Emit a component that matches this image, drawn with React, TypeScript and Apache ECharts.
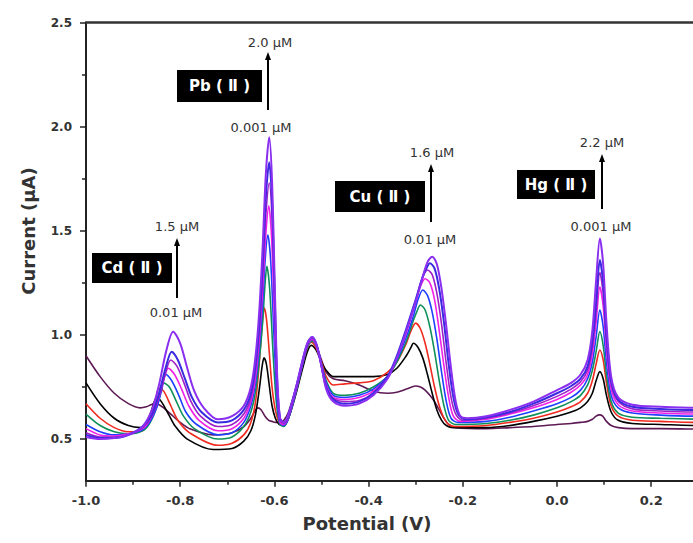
import React, { useEffect, useRef } from "react";
import * as echarts from "echarts";

// ---------- data (potential V, current µA) ----------
const BLANK: number[][] = [
  [-1.0, 0.9], [-0.97, 0.8], [-0.94, 0.72], [-0.91, 0.67], [-0.885, 0.65],
  [-0.872, 0.655], [-0.862, 0.665], [-0.855, 0.67], [-0.845, 0.665], [-0.835, 0.65], [-0.82, 0.62], [-0.8, 0.58], [-0.78, 0.55], [-0.73, 0.52], [-0.69, 0.53], [-0.665, 0.56],
  [-0.65, 0.6], [-0.64, 0.64], [-0.635, 0.65], [-0.628, 0.64], [-0.62, 0.61], [-0.612, 0.59], [-0.605, 0.585], [-0.598, 0.58], [-0.59, 0.58], [-0.58, 0.59],
  [-0.57, 0.63], [-0.555, 0.74], [-0.54, 0.86], [-0.53, 0.94], [-0.522, 0.975], [-0.512, 0.95], [-0.5, 0.88], [-0.49, 0.82], [-0.475, 0.79],
  [-0.45, 0.78], [-0.42, 0.76], [-0.39, 0.73],
  [-0.36, 0.72], [-0.34, 0.725], [-0.32, 0.74], [-0.3, 0.755], [-0.29, 0.75], [-0.28, 0.735], [-0.27, 0.71], [-0.26, 0.68], [-0.25, 0.64], [-0.24, 0.6], [-0.23, 0.57], [-0.215, 0.555],
  [-0.15, 0.55], [-0.1, 0.555], [-0.05, 0.56], [0.0, 0.57], [0.03, 0.575], [0.05, 0.58],
  [0.065, 0.585], [0.075, 0.595], [0.083, 0.61], [0.09, 0.616], [0.097, 0.61], [0.105, 0.585], [0.115, 0.565], [0.13, 0.555],
  [0.16, 0.55], [0.22, 0.55], [0.3, 0.548], [0.4, 0.545],
];

const BLACK: number[][] = [
  [-1.0, 0.77], [-0.97, 0.67], [-0.94, 0.6], [-0.91, 0.565], [-0.885, 0.555],
  [-0.872, 0.58], [-0.862, 0.63], [-0.855, 0.68], [-0.85, 0.7], [-0.84, 0.68], [-0.825, 0.62], [-0.81, 0.56], [-0.785, 0.5], [-0.73, 0.45], [-0.69, 0.455], [-0.665, 0.49],
  [-0.65, 0.54], [-0.64, 0.62], [-0.632, 0.74], [-0.626, 0.85], [-0.622, 0.89], [-0.617, 0.86], [-0.611, 0.76], [-0.605, 0.66], [-0.598, 0.6], [-0.59, 0.57], [-0.58, 0.565],
  [-0.57, 0.6], [-0.555, 0.71], [-0.54, 0.84], [-0.53, 0.92], [-0.522, 0.95], [-0.512, 0.93], [-0.5, 0.87], [-0.49, 0.83], [-0.475, 0.8],
  [-0.45, 0.8], [-0.42, 0.8], [-0.39, 0.8],
  [-0.36, 0.81], [-0.34, 0.84], [-0.32, 0.9], [-0.31, 0.94], [-0.305, 0.96], [-0.295, 0.94], [-0.285, 0.89], [-0.275, 0.81], [-0.265, 0.72], [-0.255, 0.64], [-0.245, 0.59], [-0.235, 0.565], [-0.22, 0.555],
  [-0.15, 0.555], [-0.1, 0.565], [-0.05, 0.585], [0.0, 0.61], [0.03, 0.63], [0.05, 0.65],
  [0.065, 0.68], [0.075, 0.72], [0.083, 0.78], [0.091, 0.824], [0.098, 0.79], [0.105, 0.71], [0.115, 0.63], [0.13, 0.59],
  [0.16, 0.575], [0.22, 0.57], [0.3, 0.565], [0.4, 0.565],
];

const RED: number[][] = [
  [-1.0, 0.67], [-0.97, 0.6], [-0.94, 0.555], [-0.91, 0.535], [-0.88, 0.54],
  [-0.87, 0.57], [-0.86, 0.63], [-0.852, 0.69], [-0.845, 0.745], [-0.835, 0.73], [-0.82, 0.66], [-0.805, 0.59], [-0.78, 0.53], [-0.72, 0.47], [-0.69, 0.48], [-0.665, 0.52],
  [-0.65, 0.58], [-0.64, 0.68], [-0.632, 0.87], [-0.626, 1.05], [-0.622, 1.13], [-0.617, 1.08], [-0.611, 0.92], [-0.605, 0.75], [-0.598, 0.64], [-0.59, 0.58], [-0.58, 0.565],
  [-0.57, 0.6], [-0.555, 0.72], [-0.54, 0.86], [-0.53, 0.94], [-0.522, 0.965], [-0.512, 0.94], [-0.5, 0.87], [-0.49, 0.8], [-0.475, 0.76],
  [-0.45, 0.765], [-0.42, 0.77], [-0.39, 0.78],
  [-0.36, 0.82], [-0.34, 0.87], [-0.32, 0.96], [-0.31, 1.02], [-0.3, 1.057], [-0.29, 1.03], [-0.28, 0.96], [-0.27, 0.86], [-0.26, 0.75], [-0.25, 0.66], [-0.24, 0.6], [-0.23, 0.57], [-0.215, 0.56],
  [-0.15, 0.565], [-0.1, 0.58], [-0.05, 0.6], [0.0, 0.63], [0.03, 0.655], [0.05, 0.68],
  [0.065, 0.72], [0.075, 0.78], [0.083, 0.86], [0.091, 0.928], [0.098, 0.88], [0.105, 0.77], [0.115, 0.66], [0.13, 0.61],
  [0.16, 0.59], [0.22, 0.585], [0.3, 0.58], [0.4, 0.58],
];

const GREEN: number[][] = [
  [-1.0, 0.62], [-0.97, 0.565], [-0.94, 0.535], [-0.91, 0.525], [-0.88, 0.54],
  [-0.865, 0.575], [-0.852, 0.64], [-0.843, 0.71], [-0.835, 0.77], [-0.823, 0.75], [-0.808, 0.68], [-0.793, 0.61], [-0.77, 0.55], [-0.72, 0.5], [-0.69, 0.51], [-0.665, 0.56],
  [-0.65, 0.63], [-0.64, 0.73], [-0.632, 0.88], [-0.625, 1.06], [-0.62, 1.24], [-0.616, 1.33], [-0.61, 1.22], [-0.603, 0.92], [-0.596, 0.68], [-0.589, 0.575], [-0.58, 0.56],
  [-0.57, 0.6], [-0.555, 0.72], [-0.54, 0.86], [-0.53, 0.94], [-0.52, 0.97], [-0.51, 0.94], [-0.5, 0.86], [-0.49, 0.78], [-0.475, 0.72],
  [-0.45, 0.71], [-0.42, 0.72], [-0.39, 0.75],
  [-0.36, 0.8], [-0.34, 0.87], [-0.32, 0.97], [-0.305, 1.07], [-0.298, 1.11], [-0.29, 1.144], [-0.28, 1.12], [-0.27, 1.04], [-0.26, 0.92], [-0.25, 0.78], [-0.24, 0.66], [-0.23, 0.59], [-0.215, 0.57],
  [-0.15, 0.575], [-0.1, 0.59], [-0.05, 0.615], [0.0, 0.65], [0.03, 0.68], [0.05, 0.71],
  [0.065, 0.76], [0.075, 0.83], [0.083, 0.92], [0.091, 1.016], [0.098, 0.95], [0.105, 0.81], [0.115, 0.68], [0.13, 0.625],
  [0.16, 0.605], [0.22, 0.6], [0.3, 0.595], [0.4, 0.59],
];

const BLUE: number[][] = [
  [-1.0, 0.57], [-0.97, 0.535], [-0.94, 0.52], [-0.91, 0.525], [-0.88, 0.545],
  [-0.865, 0.58], [-0.85, 0.65], [-0.84, 0.73], [-0.83, 0.81], [-0.818, 0.78], [-0.803, 0.71], [-0.788, 0.63], [-0.765, 0.57], [-0.72, 0.52], [-0.69, 0.53], [-0.665, 0.58],
  [-0.65, 0.66], [-0.64, 0.77], [-0.632, 0.94], [-0.625, 1.15], [-0.619, 1.38], [-0.614, 1.48], [-0.608, 1.36], [-0.601, 1.0], [-0.595, 0.72], [-0.589, 0.58], [-0.58, 0.565],
  [-0.57, 0.6], [-0.555, 0.72], [-0.54, 0.86], [-0.53, 0.95], [-0.52, 0.98], [-0.51, 0.945], [-0.5, 0.86], [-0.49, 0.77], [-0.475, 0.71],
  [-0.45, 0.7], [-0.42, 0.71], [-0.39, 0.74],
  [-0.36, 0.8], [-0.34, 0.88], [-0.32, 0.99], [-0.305, 1.09], [-0.295, 1.17], [-0.285, 1.216], [-0.275, 1.19], [-0.265, 1.11], [-0.255, 0.98], [-0.245, 0.82], [-0.235, 0.68], [-0.225, 0.6], [-0.21, 0.58],
  [-0.15, 0.585], [-0.1, 0.605], [-0.05, 0.635], [0.0, 0.67], [0.03, 0.7], [0.05, 0.735],
  [0.065, 0.79], [0.075, 0.87], [0.083, 0.99], [0.091, 1.12], [0.098, 1.04], [0.105, 0.87], [0.115, 0.71], [0.13, 0.65],
  [0.16, 0.625], [0.22, 0.615], [0.3, 0.61], [0.4, 0.61],
];

const MAGENTA: number[][] = [
  [-1.0, 0.55], [-0.97, 0.52], [-0.94, 0.515], [-0.91, 0.525], [-0.88, 0.55],
  [-0.865, 0.59], [-0.85, 0.67], [-0.837, 0.77], [-0.825, 0.84], [-0.812, 0.81], [-0.797, 0.74], [-0.782, 0.66], [-0.76, 0.59], [-0.72, 0.54], [-0.69, 0.55], [-0.665, 0.6],
  [-0.65, 0.68], [-0.64, 0.8], [-0.632, 0.98], [-0.625, 1.22], [-0.618, 1.49], [-0.612, 1.62], [-0.606, 1.47], [-0.6, 1.08], [-0.594, 0.74], [-0.588, 0.58], [-0.58, 0.57],
  [-0.57, 0.61], [-0.555, 0.73], [-0.54, 0.87], [-0.53, 0.95], [-0.52, 0.98], [-0.51, 0.94], [-0.5, 0.85], [-0.49, 0.76], [-0.475, 0.7],
  [-0.45, 0.69], [-0.42, 0.7], [-0.39, 0.73],
  [-0.36, 0.8], [-0.34, 0.89], [-0.32, 1.01], [-0.305, 1.12], [-0.292, 1.22], [-0.28, 1.27], [-0.27, 1.25], [-0.26, 1.17], [-0.25, 1.02], [-0.24, 0.85], [-0.23, 0.7], [-0.22, 0.61], [-0.205, 0.585],
  [-0.15, 0.595], [-0.1, 0.62], [-0.05, 0.65], [0.0, 0.69], [0.03, 0.725], [0.05, 0.76],
  [0.065, 0.81], [0.075, 0.91], [0.083, 1.06], [0.091, 1.23], [0.098, 1.14], [0.105, 0.93], [0.115, 0.74], [0.13, 0.665],
  [0.16, 0.635], [0.22, 0.625], [0.3, 0.62], [0.4, 0.62],
];

const PURPLE: number[][] = [
  [-1.0, 0.53], [-0.97, 0.51], [-0.94, 0.51], [-0.91, 0.52], [-0.88, 0.555],
  [-0.86, 0.61], [-0.845, 0.7], [-0.832, 0.81], [-0.82, 0.88], [-0.807, 0.85], [-0.792, 0.77], [-0.777, 0.68], [-0.757, 0.61], [-0.72, 0.56], [-0.69, 0.57], [-0.665, 0.62],
  [-0.65, 0.7], [-0.64, 0.83], [-0.632, 1.02], [-0.625, 1.28], [-0.618, 1.58], [-0.611, 1.73], [-0.605, 1.56], [-0.599, 1.12], [-0.594, 0.76], [-0.588, 0.59], [-0.58, 0.575],
  [-0.57, 0.61], [-0.555, 0.73], [-0.54, 0.87], [-0.53, 0.95], [-0.52, 0.985], [-0.51, 0.95], [-0.5, 0.85], [-0.49, 0.75], [-0.475, 0.695],
  [-0.45, 0.68], [-0.42, 0.685], [-0.39, 0.72],
  [-0.36, 0.79], [-0.34, 0.89], [-0.32, 1.02], [-0.3, 1.16], [-0.288, 1.26], [-0.275, 1.312], [-0.265, 1.29], [-0.255, 1.2], [-0.245, 1.05], [-0.235, 0.86], [-0.225, 0.7], [-0.215, 0.62], [-0.2, 0.59],
  [-0.15, 0.6], [-0.1, 0.625], [-0.05, 0.66], [0.0, 0.705], [0.03, 0.74], [0.05, 0.775],
  [0.065, 0.83], [0.075, 0.94], [0.083, 1.11], [0.091, 1.3], [0.098, 1.2], [0.105, 0.97], [0.115, 0.76], [0.13, 0.68],
  [0.16, 0.645], [0.22, 0.635], [0.3, 0.63], [0.4, 0.63],
];

const NAVY: number[][] = [
  [-1.0, 0.52], [-0.97, 0.505], [-0.94, 0.505], [-0.91, 0.52], [-0.88, 0.56],
  [-0.86, 0.62], [-0.845, 0.72], [-0.83, 0.85], [-0.818, 0.92], [-0.805, 0.88], [-0.79, 0.79], [-0.775, 0.7], [-0.755, 0.63], [-0.72, 0.58], [-0.69, 0.59], [-0.665, 0.64],
  [-0.65, 0.72], [-0.64, 0.86], [-0.632, 1.06], [-0.625, 1.34], [-0.618, 1.67], [-0.611, 1.83], [-0.605, 1.64], [-0.599, 1.16], [-0.594, 0.77], [-0.588, 0.6], [-0.58, 0.58],
  [-0.57, 0.62], [-0.555, 0.74], [-0.54, 0.88], [-0.53, 0.96], [-0.52, 0.99], [-0.51, 0.95], [-0.5, 0.85], [-0.49, 0.75], [-0.475, 0.69],
  [-0.45, 0.67], [-0.42, 0.68], [-0.39, 0.72],
  [-0.36, 0.8], [-0.34, 0.9], [-0.32, 1.03], [-0.3, 1.17], [-0.285, 1.28], [-0.275, 1.33], [-0.27, 1.344], [-0.26, 1.32], [-0.25, 1.22], [-0.24, 1.06], [-0.23, 0.86], [-0.22, 0.7], [-0.21, 0.62], [-0.195, 0.595],
  [-0.15, 0.605], [-0.1, 0.63], [-0.05, 0.67], [0.0, 0.72], [0.03, 0.755], [0.05, 0.79],
  [0.065, 0.85], [0.075, 0.97], [0.083, 1.16], [0.091, 1.36], [0.098, 1.25], [0.105, 1.0], [0.115, 0.78], [0.13, 0.69],
  [0.16, 0.655], [0.22, 0.645], [0.3, 0.64], [0.4, 0.64],
];

const VIOLET: number[][] = [
  [-1.0, 0.51], [-0.97, 0.5], [-0.94, 0.505], [-0.91, 0.52], [-0.88, 0.56],
  [-0.86, 0.64], [-0.845, 0.76], [-0.83, 0.92], [-0.815, 1.016], [-0.8, 0.96], [-0.785, 0.84], [-0.77, 0.73], [-0.75, 0.65], [-0.72, 0.595], [-0.69, 0.61], [-0.665, 0.66],
  [-0.65, 0.75], [-0.64, 0.9], [-0.632, 1.12], [-0.625, 1.42], [-0.618, 1.78], [-0.611, 1.95], [-0.605, 1.74], [-0.599, 1.22], [-0.594, 0.8], [-0.588, 0.6], [-0.58, 0.58],
  [-0.57, 0.62], [-0.555, 0.74], [-0.54, 0.88], [-0.53, 0.96], [-0.52, 0.99], [-0.51, 0.95], [-0.5, 0.85], [-0.49, 0.74], [-0.475, 0.68],
  [-0.45, 0.66], [-0.42, 0.67], [-0.39, 0.71],
  [-0.36, 0.79], [-0.34, 0.89], [-0.32, 1.02], [-0.3, 1.16], [-0.285, 1.28], [-0.275, 1.35], [-0.265, 1.376], [-0.255, 1.34], [-0.245, 1.22], [-0.235, 1.04], [-0.225, 0.84], [-0.215, 0.68], [-0.205, 0.61], [-0.19, 0.6],
  [-0.15, 0.61], [-0.1, 0.64], [-0.05, 0.68], [0.0, 0.735], [0.03, 0.77], [0.05, 0.81],
  [0.065, 0.88], [0.075, 1.02], [0.083, 1.26], [0.091, 1.464], [0.098, 1.34], [0.105, 1.06], [0.115, 0.8], [0.13, 0.7],
  [0.16, 0.665], [0.22, 0.655], [0.3, 0.65], [0.4, 0.645],
];

const CURVES = [BLANK, BLACK, RED, GREEN, BLUE, MAGENTA, PURPLE, NAVY, VIOLET];
const CURVE_COLORS = ["#5e1a55", "#000000", "#f02a1e", "#0f8f5a", "#1e40ff", "#f020e8", "#a020c8", "#3a2ae0", "#8a2ef0"];

const Y_MAJOR = [0.5, 1.0, 1.5, 2.0, 2.5];
const Y_MINOR = [0.75, 1.25, 1.75, 2.25];

const METALS = ["Cd ( Ⅱ )", "Pb ( Ⅱ )", "Cu ( Ⅱ )", "Hg ( Ⅱ )"];
const HIGH_CONC = ["1.5 μM", "2.0 μM", "1.6 μM", "2.2 μM"];
const LOW_CONC = ["0.01 μM", "0.001 μM", "0.01 μM", "0.001 μM"];

// annotation layout (pixels)
const NOTE_LAYOUT = [
  { box: [92, 253, 80, 30], ax: 177, aTop: 240, aBot: 298, tx: 177, ty: 226, bx: 176, by: 312 },
  { box: [177, 70, 85, 32], ax: 268, aTop: 54, aBot: 110, tx: 270, ty: 42, bx: 261, by: 127 },
  { box: [335, 181, 90, 31], ax: 431, aTop: 166, aBot: 222, tx: 432, ty: 152, bx: 430, by: 239 },
  { box: [517, 170, 78, 29], ax: 602, aTop: 156, aBot: 209, tx: 602, ty: 142, bx: 601, by: 226 },
];

const FONT = '"DejaVu Sans", "Liberation Sans", Arial, sans-serif';

export default function App() {
  const ref = useRef<HTMLDivElement>(null);
  useEffect(() => {
    if (!ref.current) return;
    const chart = echarts.init(ref.current, null, { renderer: "svg" });

    const graphics: any[] = [];
    METALS.forEach((m, i) => {
      const L = NOTE_LAYOUT[i];
      const [x, y, w, h] = L.box;
      graphics.push({ type: "rect", shape: { x, y, width: w, height: h }, style: { fill: "#000" }, z: 50 });
      graphics.push({
        type: "text", x: x + w / 2, y: y + h / 2, z: 51,
        style: { text: m, fill: "#fff", font: `bold 15px ${FONT}`, align: "center", verticalAlign: "middle" },
      });
      graphics.push({ type: "line", shape: { x1: L.ax, y1: L.aBot, x2: L.ax, y2: L.aTop + 4 }, style: { stroke: "#000", lineWidth: 2 }, z: 50 });
      graphics.push({
        type: "polygon", z: 50,
        shape: { points: [[L.ax, L.aTop - 2], [L.ax - 3, L.aTop + 6], [L.ax + 3, L.aTop + 6]] },
        style: { fill: "#000" },
      });
      graphics.push({
        type: "text", x: L.tx, y: L.ty, z: 51,
        style: { text: HIGH_CONC[i], fill: "#333", font: `13px ${FONT}`, align: "center", verticalAlign: "middle" },
      });
      graphics.push({
        type: "text", x: L.bx, y: L.by, z: 51,
        style: { text: LOW_CONC[i], fill: "#333", font: `13px ${FONT}`, align: "center", verticalAlign: "middle" },
      });
    });
    graphics.push({
      type: "text", x: 367, y: 523,
      style: { text: "Potential (V)", fill: "#333", font: `bold 18px ${FONT}`, align: "center", verticalAlign: "middle" },
    });
    graphics.push({
      type: "text", x: 28, y: 231, rotation: Math.PI / 2,
      style: { text: "Current (μA)", fill: "#333", font: `bold 18px ${FONT}`, align: "center", verticalAlign: "middle" },
    });

    const axisColor = "#222";
    chart.setOption({
      animation: false,
      backgroundColor: "#fff",
      grid: { left: 86, top: 22.7, right: 14.6, bottom: 62.3, containLabel: false },
      xAxis: [
        {
          type: "value", min: -1.0, max: 0.4, interval: 0.2,
          axisLine: { show: true, onZero: false, lineStyle: { color: axisColor, width: 2 } },
          axisTick: { show: true, length: 6, lineStyle: { color: axisColor, width: 1.5 } },
          minorTick: { show: true, splitNumber: 2, length: 4, lineStyle: { color: axisColor, width: 1.5 } },
          axisLabel: {
            margin: 13, color: "#333", fontSize: 13, fontWeight: "bold", fontFamily: FONT,
            formatter: (v: number) => v.toFixed(1), showMaxLabel: false,
          },
          splitLine: { show: false },
          minorSplitLine: { show: false },
        },
        {
          type: "value", min: -1.0, max: 0.4, position: "top",
          axisLine: { show: true, onZero: false, lineStyle: { color: "#333", width: 2.5 } },
          axisTick: { show: false }, axisLabel: { show: false }, splitLine: { show: false },
        },
      ],
      yAxis: [
        {
          type: "value", min: 0.3, max: 2.5, position: "left",
          axisLine: { show: true, onZero: false, lineStyle: { color: axisColor, width: 2 } },
          axisTick: { show: true, length: 6, customValues: Y_MAJOR, lineStyle: { color: axisColor, width: 1.5 } },
          axisLabel: {
            customValues: Y_MAJOR, margin: 14, color: "#333", fontSize: 12, fontWeight: "bold", fontFamily: FONT,
            formatter: (v: number) => v.toFixed(1),
          },
          splitLine: { show: false },
        },
        {
          type: "value", min: 0.3, max: 2.5, position: "left", offset: 0,
          axisLine: { show: false, onZero: false },
          axisTick: { show: true, length: 4, customValues: Y_MINOR, lineStyle: { color: axisColor, width: 1.5 } },
          axisLabel: { show: false },
          splitLine: { show: false },
        },
      ],
      series: CURVES.map((d, i) => ({
        type: "line",
        data: d,
        xAxisIndex: 0,
        yAxisIndex: 0,
        showSymbol: false,
        smooth: 0.3,
        lineStyle: { color: CURVE_COLORS[i], width: i >= 7 ? 2 : 1.6 },
        itemStyle: { color: CURVE_COLORS[i] },
        z: 2 + i,
      })),
      graphic: graphics,
    });
    return () => chart.dispose();
  }, []);

  return (
    <div style={{ position: "fixed", left: 0, top: 0, width: 693, height: 543, overflow: "hidden", background: "#fff" }}>
      <div ref={ref} style={{ width: 760, height: 543 }} />
    </div>
  );
}
